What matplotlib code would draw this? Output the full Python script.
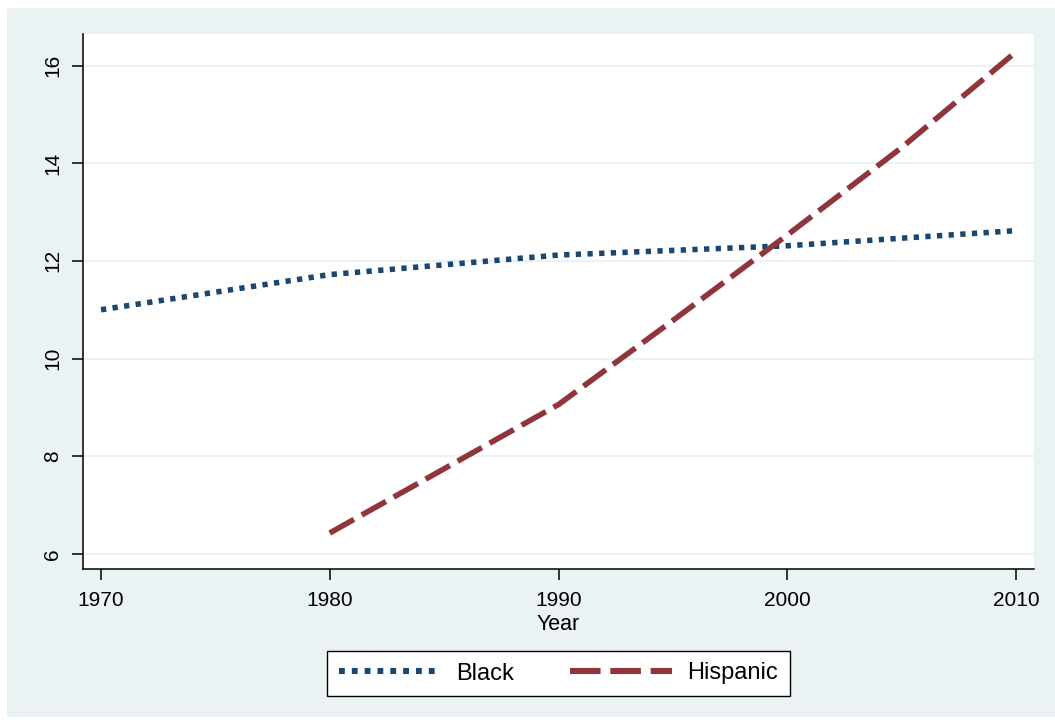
import matplotlib
matplotlib.use("Agg")
import matplotlib.pyplot as plt
from matplotlib.patches import Rectangle

plt.rcParams['font.family'] = ['Liberation Sans', 'DejaVu Sans']

# Series
black_years = [1970, 1980, 1990, 2000, 2010]
black_values = [11.0, 11.72, 12.12, 12.31, 12.62]

hispanic_years = [1980, 1990, 1995, 2000, 2005, 2010]
hispanic_values = [6.43, 9.06, 10.78, 12.53, 14.32, 16.28]

x_ticks = [1970, 1980, 1990, 2000, 2010]
y_ticks = [6, 8, 10, 12, 14, 16]

navy = '#1A476F'
maroon = '#90353B'
region_bg = '#EAF2F3'

W, H = 1055, 726
fig = plt.figure(figsize=(W / 100, H / 100), dpi=100)
fig.patch.set_facecolor('white')

# Graph region background, kept behind the axes
fig.patches.append(Rectangle((7 / W, 1 - 717 / H), (W - 7) / W, (717 - 8) / H,
                             transform=fig.transFigure, facecolor=region_bg,
                             edgecolor='none', zorder=-10))

ax = fig.add_axes([83 / W, 1 - 569 / H, (1034 - 83) / W, (569 - 34) / H])
ax.set_facecolor('white')

ax.plot(black_years, black_values, color=navy, linewidth=4.0,
        linestyle=(0, (0.95, 1.15)), dash_capstyle='butt', label='Black', zorder=3)
ax.plot(hispanic_years, hispanic_values, color=maroon, linewidth=4.0,
        linestyle=(0, (5.0, 1.6)), dash_capstyle='butt', label='Hispanic', zorder=3)

ax.set_xlim(1969.213, 2010.787)
ax.set_ylim(5.693, 16.645)
ax.set_xticks(x_ticks)
ax.set_yticks(y_ticks)
ax.set_yticklabels([str(v) for v in y_ticks], rotation=90, va='center')

ax.yaxis.grid(True, color=region_bg, linewidth=1.5, zorder=0)
ax.xaxis.grid(False)
ax.set_axisbelow(True)

for side in ('top', 'right'):
    ax.spines[side].set_visible(False)
for side in ('left', 'bottom'):
    ax.spines[side].set_linewidth(1.1)
    ax.spines[side].set_color('black')

ax.tick_params(axis='both', direction='out', length=8, width=1.1,
               color='black', labelsize=15, labelcolor='black')
ax.tick_params(axis='y', pad=7)
ax.tick_params(axis='x', pad=8)

ax.set_xlabel('Year', fontsize=15.5, labelpad=3)

leg = fig.legend(loc='center', bbox_to_anchor=(558.5 / W, 1 - 673.5 / H),
                 ncol=2, fontsize=17, frameon=True, fancybox=False,
                 handlelength=4.3, handletextpad=0.65, columnspacing=2.4,
                 borderpad=0.5)
for line in leg.get_lines():
    line.set_linewidth(4.4)
frame = leg.get_frame()
frame.set_edgecolor('black')
frame.set_linewidth(1.0)
frame.set_facecolor('white')
frame.set_alpha(1.0)

fig.savefig('out.png', dpi=100, facecolor=fig.get_facecolor())
